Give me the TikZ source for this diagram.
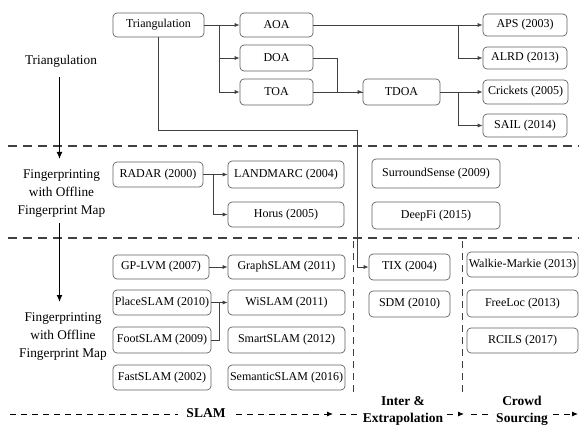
\documentclass[tikz,border=0pt]{standalone}
\usepackage{fontspec}
\setmainfont{Liberation Serif}
\usetikzlibrary{arrows.meta}
\tikzset{
  box/.style={draw=black!62, line width=0.7pt, rounded corners=4pt, inner sep=0pt, align=center, font=\fontsize{12}{14}\selectfont},
  conn/.style={draw=black!75, line width=0.75pt},
  arr/.style={conn, -{Latex[length=5pt,width=4pt]}},
  sep/.style={draw=black!75, line width=1.1pt, dash pattern=on 9pt off 6pt},
  vsep/.style={draw=black!75, line width=1pt, dash pattern=on 7pt off 5pt},
  bigarr/.style={draw=black, line width=1.3pt, -{Latex[length=7pt,width=6pt]}},
  lbl/.style={align=center, font=\fontsize{13.3}{18}\selectfont, inner sep=0pt},
  blbl/.style={align=center, font=\fontsize{13.5}{17}\selectfont\bfseries, inner sep=0pt},
  barr/.style={draw=black, line width=0.9pt, dash pattern=on 6pt off 5pt, -{Latex[length=6pt,width=5pt]}},
  bline/.style={draw=black, line width=0.9pt, dash pattern=on 6pt off 5pt},
}
\newcommand\bx[6]{\node[box, minimum width={(#4-#2)*1pt}, minimum height={(#5-#3)*1pt}] (#1) at ({(#2+#4)/2},{(#3+#5)/2}) {#6};}
\begin{document}
\begin{tikzpicture}[x=1pt,y=-1pt]
\useasboundingbox (0,0) rectangle (579,425);
% separators
\draw[sep] (8,146) -- (579,146);
\draw[sep] (8,238) -- (579,238);
\draw[vsep] (353,241) -- (353,394);
\draw[vsep] (462,241) -- (462,394);
% left labels
\node[lbl] (lt) at (61,61) {Triangulation};
\node[lbl] (lf1) at (61.5,194) {Fingerprinting\\with Offline\\Fingerprint Map};
\node[lbl] (lf2) at (63,337) {Fingerprinting\\with Offline\\Fingerprint Map};
\coordinate (a1s) at (59.5,77);
\coordinate (a1e) at (59.5,159);
\coordinate (a2s) at (59.5,223);
\coordinate (a2e) at (59.5,302);
\draw[bigarr] (a1s) -- (a1e);
\draw[bigarr] (a2s) -- (a2e);
% triangulation boxes
\bx{tri}{113}{13}{204}{37}{Triangulation}
\bx{aoa}{240}{13}{313}{37}{AOA}
\bx{doa}{240}{45}{313}{71}{DOA}
\bx{toa}{240}{79}{313}{105}{TOA}
\bx{tdoa}{363}{79}{440}{105}{TDOA}
\bx{aps}{483}{14}{567}{36}{APS (2003)}
\bx{alrd}{483}{47}{567}{69}{ALRD (2013)}
\bx{crk}{483}{80}{568}{104}{Crickets (2005)}
\bx{sail}{483}{114}{567}{137}{SAIL (2014)}
% fingerprint offline
\bx{radar}{113}{162}{203}{187}{RADAR (2000)}
\bx{landmarc}{228}{161}{344}{188}{LANDMARC (2004)}
\bx{horus}{228}{202}{344}{227}{Horus (2005)}
\bx{surround}{372}{159}{500}{188}{SurroundSense (2009)}
\bx{deepfi}{372}{202}{500}{229}{DeepFi (2015)}
% SLAM etc
\bx{gplvm}{113}{255}{209}{279}{GP-LVM (2007)}
\bx{place}{113}{290}{211}{315}{PlaceSLAM (2010)}
\bx{foot}{113}{327}{211}{353}{FootSLAM (2009)}
\bx{fast}{113}{365}{211}{390}{FastSLAM (2002)}
\bx{graph}{228}{255}{345}{279}{GraphSLAM (2011)}
\bx{wislam}{228}{290}{345}{315}{WiSLAM (2011)}
\bx{smart}{228}{327}{345}{353}{SmartSLAM (2012)}
\bx{semantic}{228}{365}{345}{390}{SemanticSLAM (2016)}
\bx{tix}{369}{254}{450}{280}{TIX (2004)}
\bx{sdm}{369}{291}{450}{317}{SDM (2010)}
\bx{walkie}{467}{252}{578}{277}{Walkie-Markie (2013)}
\bx{freeloc}{467}{290}{578}{317}{FreeLoc (2013)}
\bx{rcils}{467}{328}{578}{353}{RCILS (2017)}
% connectors
\coordinate (b1) at (219,25);
\draw[arr] (tri.east) -- (aoa.west);
\draw[arr] (b1) |- (doa.west);
\draw[arr] (b1) |- (toa.west);
\draw[arr] (aoa.east) -- (aps.west);
\coordinate (b2) at (458,25);
\draw[arr] (b2) |- (alrd.west);
\coordinate (b3) at (337,58);
\draw[conn] (doa.east) -- (b3) |- (tdoa.west);
\draw[arr] (toa.east) -- (tdoa.west);
\draw[arr] (tdoa.east) -- (crk.west);
\coordinate (b4) at (458,92);
\draw[arr] (b4) |- (sail.west);
\coordinate (c1) at (357,130);
\draw[arr] (tri.south) |- (c1) |- (tix.west);
\coordinate (b5) at (213,174.5);
\draw[arr] (radar.east) -- (landmarc.west);
\draw[arr] (b5) |- (horus.west);
\draw[arr] (gplvm.east) -- (graph.west);
\draw[arr] (place.east) -- (wislam.west);
\coordinate (b6) at (219,302.5);
\draw[conn] (foot.east) -| (b6);
% bottom
\node[blbl] (slam) at (206,413) {SLAM};
\node[blbl] (inter) at (403,411) {Inter \&\\Extrapolation};
\node[blbl] (crowd) at (522,411) {Crowd\\Sourcing};
\coordinate (d1) at (10,414);
\coordinate (d2) at (178,414);
\coordinate (d3) at (236,414);
\coordinate (d4) at (333,414);
\coordinate (d5) at (340,414);
\coordinate (d6) at (359,414);
\coordinate (d7) at (447,414);
\coordinate (d8) at (464,414);
\coordinate (d9) at (471,414);
\coordinate (d10) at (493,414);
\coordinate (d11) at (553,414);
\coordinate (d12) at (578,414);
\draw[bline] (d1) -- (d2);
\draw[barr] (d3) -- (d4);
\draw[bline] (d5) -- (d6);
\draw[barr] (d7) -- (d8);
\draw[bline] (d9) -- (d10);
\draw[barr] (d11) -- (d12);
\end{tikzpicture}
\end{document}
